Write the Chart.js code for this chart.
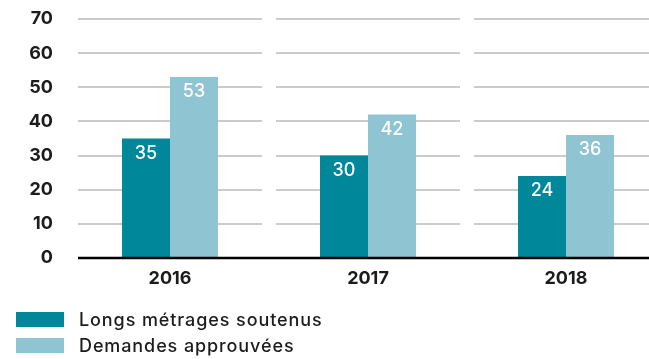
<!DOCTYPE html>
<html lang="fr">
<head>
<meta charset="utf-8">
<script src="https://cdn.jsdelivr.net/npm/chart.js@4/dist/chart.umd.min.js"></script>
<style>
  html, body { margin: 0; padding: 0; background: #fff; overflow: hidden; }
  #wrap { position: relative; width: 649px; height: 359px; overflow: hidden; }
  canvas { position: absolute; left: 0; top: 0; }
  .legend { position: absolute; left: 16px; top: 306px; font-family: Inter, "Noto Sans", sans-serif; font-weight: 500; font-size: 18px; letter-spacing: 0.9px; color: #1c1c1c; }
  .legend .item { display: flex; align-items: center; height: 26px; }
  .legend .sw { width: 48px; height: 15px; margin-right: 15px; }
</style>
</head>
<body>
<div id="wrap">
  <canvas id="c" width="680" height="359"></canvas>
  <div class="legend" id="legend"></div>
</div>
<script>
const categories = ['2016', '2017', '2018'];
const seriesNames = ['Longs métrages soutenus', 'Demandes approuvées'];
const longsMetrages = [35, 30, 24];
const demandesApprouvees = [53, 42, 36];
const yTicks = [0, 10, 20, 30, 40, 50, 60, 70];
const seriesColors = ['#00879a', '#8fc4d2'];

const FONT = 'Inter, "Noto Sans", sans-serif';

// Horizontal guides broken into one segment per year, plus the black baseline
const segmentedGrid = {
  id: 'segmentedGrid',
  beforeDatasetsDraw(chart) {
    const { ctx, scales: { x, y } } = chart;
    const half = (x.getPixelForValue(1) - x.getPixelForValue(0)) / 2 - 7;
    ctx.save();
    ctx.strokeStyle = '#cbcbcb';
    ctx.lineWidth = 2;
    yTicks.filter(v => v > 0).forEach(v => {
      const py = Math.round(y.getPixelForValue(v));
      categories.forEach((c, i) => {
        const cx = x.getPixelForValue(i);
        ctx.beginPath();
        ctx.moveTo(cx - half, py);
        ctx.lineTo(cx + half, py);
        ctx.stroke();
      });
    });
    ctx.restore();
  },
  afterDatasetsDraw(chart) {
    const { ctx, scales: { x, y } } = chart;
    const half = (x.getPixelForValue(1) - x.getPixelForValue(0)) / 2 - 7;
    const py = y.getPixelForValue(0);
    ctx.save();
    ctx.strokeStyle = '#000';
    ctx.lineWidth = 2.4;
    ctx.beginPath();
    ctx.moveTo(x.getPixelForValue(0) - half, py);
    ctx.lineTo(x.getPixelForValue(categories.length - 1) + half, py);
    ctx.stroke();

    // value labels inside the top of each bar
    ctx.fillStyle = '#fff';
    ctx.font = '500 18px ' + FONT;
    ctx.textAlign = 'center';
    ctx.textBaseline = 'middle';
    chart.data.datasets.forEach((ds, di) => {
      chart.getDatasetMeta(di).data.forEach((bar, i) => {
        ctx.fillText(String(ds.data[i]), bar.x, bar.y + 15);
      });
    });
    ctx.restore();
  }
};

new Chart(document.getElementById('c'), {
  type: 'bar',
  data: {
    labels: categories,
    datasets: [
      { label: seriesNames[0], data: longsMetrages, backgroundColor: seriesColors[0] },
      { label: seriesNames[1], data: demandesApprouvees, backgroundColor: seriesColors[1] }
    ]
  },
  options: {
    responsive: false,
    animation: false,
    devicePixelRatio: 1,
    layout: { padding: { top: 19, left: 0, right: 15, bottom: 0 } },
    datasets: { bar: { categoryPercentage: 96 / 198, barPercentage: 1, borderWidth: 0 } },
    plugins: { legend: { display: false }, tooltip: { enabled: false } },
    scales: {
      x: {
        grid: { display: false, drawTicks: false },
        border: { display: false },
        ticks: { color: '#1c1c1c', padding: 10, font: { family: FONT, weight: 'bold', size: 18 } },
        afterFit(s) { s.height = 101; }
      },
      y: {
        min: 0, max: 70,
        afterBuildTicks(s) { s.ticks = yTicks.map(v => ({ value: v })); },
        grid: { display: true, drawOnChartArea: false, drawTicks: true, tickLength: 18, color: 'rgba(0,0,0,0)' },
        border: { display: false },
        ticks: { color: '#1c1c1c', padding: 0, font: { family: FONT, weight: 'bold', size: 18 } },
        afterFit(s) { s.width = 71; }
      }
    }
  },
  plugins: [segmentedGrid]
});

// Legend
const legend = document.getElementById('legend');
seriesNames.forEach((name, i) => {
  const item = document.createElement('div');
  item.className = 'item';
  const sw = document.createElement('span');
  sw.className = 'sw';
  sw.style.background = seriesColors[i];
  const txt = document.createElement('span');
  txt.textContent = name;
  item.appendChild(sw);
  item.appendChild(txt);
  legend.appendChild(item);
});
</script>
</body>
</html>
